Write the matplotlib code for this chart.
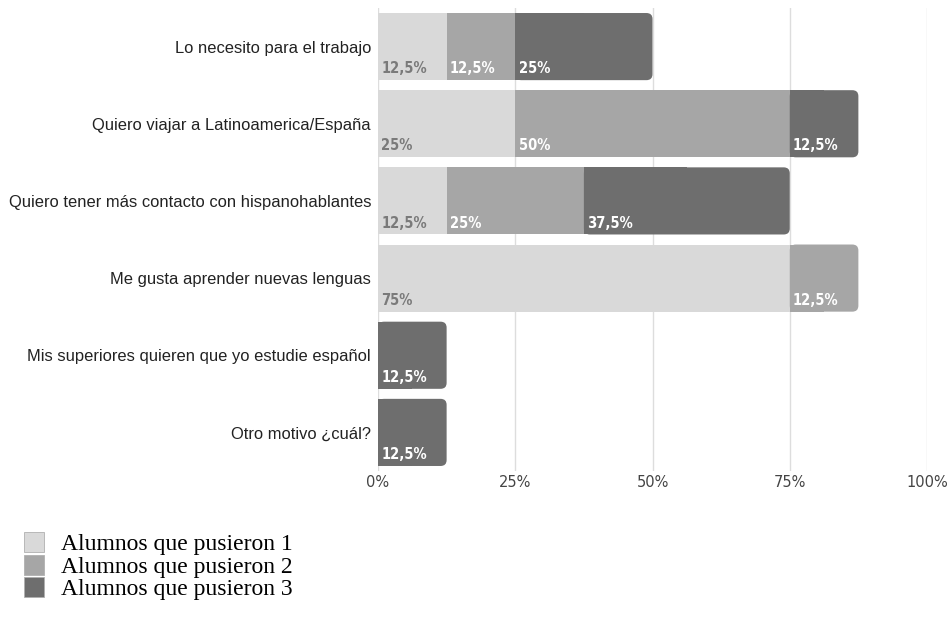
import numpy as np
import matplotlib.pyplot as plt
from matplotlib import font_manager
from matplotlib.patches import FancyBboxPatch, Rectangle
from matplotlib.lines import Line2D

categorias = ['Lo necesito para el trabajo',
              'Quiero viajar a Latinoamerica/España',
              'Quiero tener más contacto con hispanohablantes',
              'Me gusta aprender nuevas lenguas',
              'Mis superiores quieren que yo estudie español',
              'Otro motivo ¿cuál?']
pusieron_1 = [12.5, 25, 12.5, 75, 0, 0]
pusieron_2 = [12.5, 50, 25, 12.5, 0, 0]
pusieron_3 = [25, 12.5, 37.5, 0, 12.5, 12.5]
series = ['Alumnos que pusieron 1', 'Alumnos que pusieron 2', 'Alumnos que pusieron 3']
colores = ['#d9d9d9', '#a6a6a6', '#6e6e6e']
color_texto = ['#7a7a7a', 'white', 'white']
xticks = [0, 25, 50, 75, 100]

# fuente estrecha para las etiquetas de valor, si hay alguna
estrechas = [f for f in font_manager.fontManager.ttflist
             if ('Condensed' in f.name or 'Narrow' in f.name
                 or f.stretch in ('condensed', 'semi-condensed'))]
if estrechas:
    bold = [f for f in estrechas if f.weight in ('bold', 700)]
    fp_valor = font_manager.FontProperties(fname=(bold or estrechas)[0].fname, size=10.5)
else:
    fp_valor = font_manager.FontProperties(family='DejaVu Sans', stretch='condensed',
                                           weight='bold', size=10)

fig = plt.figure(figsize=(9.49, 6.2), dpi=100)
ax = fig.add_axes([378/949, 1-471/620, 549/949, (471-8)/620])

alto = 0.87
y = np.arange(len(categorias))
datos = [pusieron_1, pusieron_2, pusieron_3]

for i in range(len(categorias)):
    izq = 0
    # ultimo tramo no vacio de la fila, lleva esquinas redondeadas a la derecha
    ultimo = max(k for k in range(3) if datos[k][i] > 0)
    for k in range(3):
        v = datos[k][i]
        if v == 0:
            continue
        if k == ultimo:
            r = FancyBboxPatch((izq, y[i]-alto/2), v, alto,
                               boxstyle='round,pad=0,rounding_size=1.1',
                               mutation_aspect=0.0707,
                               fc=colores[k], ec='none', zorder=2)
            ax.add_patch(r)
            ax.add_patch(Rectangle((izq, y[i]-alto/2), v/2, alto,
                                   fc=colores[k], ec='none', zorder=2))
        else:
            ax.barh(y[i], v, left=izq, height=alto, color=colores[k], zorder=2)
        ax.text(izq + 0.6, y[i] + alto/2 - 0.05, ('%g%%' % v).replace('.', ','),
                color=color_texto[k], fontproperties=fp_valor,
                ha='left', va='bottom', zorder=3)
        izq += v

ax.set_xlim(0, 100)
ax.set_ylim(len(categorias)-0.5, -0.5)
ax.set_yticks(y)
ax.set_yticklabels(categorias, fontsize=11.9, color='#222222', family='Liberation Sans')
ax.set_xticks(xticks)
ax.set_xticklabels(['%d%%' % t for t in xticks], fontsize=10.5, color='#444444')
ax.tick_params(length=0)
ax.tick_params(axis='y', pad=5)
ax.tick_params(axis='x', pad=3)
for s in ax.spines.values():
    s.set_visible(False)
ax.grid(axis='x', color='#dddddd', lw=1, zorder=0)
ax.set_axisbelow(True)

handles = [Line2D([], [], marker='s', ls='none', markersize=15, markerfacecolor=c,
                  markeredgecolor='#b0b0b0', markeredgewidth=0.6) for c in colores]
fig.legend(handles, series, loc='upper left', bbox_to_anchor=(0.01, 0.154),
           frameon=False, prop={'family': 'Liberation Serif', 'size': 17},
           handletextpad=0.5, labelspacing=0.04, handlelength=1.3, borderaxespad=0)

fig.savefig('out.png', dpi=100)
